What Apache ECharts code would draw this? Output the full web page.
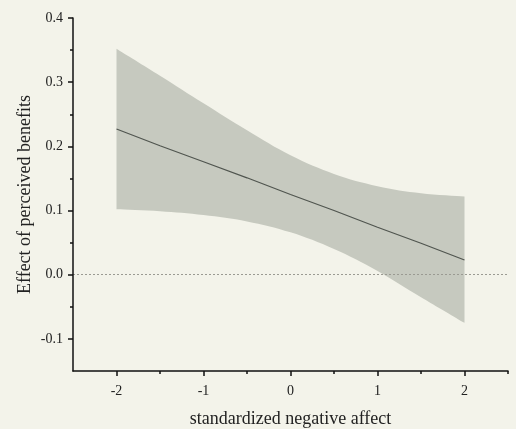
<!DOCTYPE html>
<html>
<head>
<meta charset="utf-8">
<script src="https://cdn.jsdelivr.net/npm/echarts@6/dist/echarts.min.js"></script>
<style>
html,body{margin:0;padding:0;background:#f3f3ea;}
#chart{width:516px;height:429px;}
</style>
</head>
<body>
<div id="chart"></div>
<script>
// Data
const xValues = [-2, -1.5, -1, -0.5, 0, 0.5, 1, 1.5, 2];
const effect  = [0.227, 0.201, 0.176, 0.151, 0.125, 0.100, 0.074, 0.049, 0.023];
const upper   = [0.352, 0.310, 0.267, 0.225, 0.186, 0.157, 0.138, 0.127, 0.122];
const lower   = [0.102, 0.099, 0.093, 0.083, 0.066, 0.040, 0.006, -0.035, -0.075];
const xTicks = [-2, -1, 0, 1, 2];
const xMinorTicks = [-1.5, -0.5, 0.5, 1.5, 2.5];
const yTicks = [-0.1, 0.0, 0.1, 0.2, 0.3, 0.4];
const yMinorTicks = [-0.05, 0.05, 0.15, 0.25, 0.35];

const font = 'Liberation Serif';
const bg = '#f3f3ea';
const chart = echarts.init(document.getElementById('chart'));

const bandData = xValues.map((x, i) => [x, lower[i], upper[i]]);
const lineData = xValues.map((x, i) => [x, effect[i]]);

// smooth cubic path through pixel points (Catmull-Rom style)
function smoothSegs(pts, t) {
  let d = '';
  for (let i = 0; i < pts.length - 1; i++) {
    const p0 = pts[Math.max(i - 1, 0)], p1 = pts[i], p2 = pts[i + 1], p3 = pts[Math.min(i + 2, pts.length - 1)];
    const c1 = [p1[0] + (p2[0] - p0[0]) * t, p1[1] + (p2[1] - p0[1]) * t];
    const c2 = [p2[0] - (p3[0] - p1[0]) * t, p2[1] - (p3[1] - p1[1]) * t];
    d += ` C${c1[0]},${c1[1]} ${c2[0]},${c2[1]} ${p2[0]},${p2[1]}`;
  }
  return d;
}

function renderBand(params, api) {
  if (params.dataIndex !== 0) return null;
  const up = bandData.map(d => api.coord([d[0], d[2]]));
  const lo = bandData.map(d => api.coord([d[0], d[1]])).reverse();
  let d = `M${up[0][0]},${up[0][1]}` + smoothSegs(up, 0.18);
  d += ` L${lo[0][0]},${lo[0][1]}` + smoothSegs(lo, 0.18) + ' Z';
  return {type: 'path', shape: {pathData: d}, style: {fill: '#c6c9bf', stroke: null}};
}

const tickStyle = {color: '#111', width: 1.5};

chart.setOption({
  backgroundColor: bg,
  animation: false,
  grid: {left: 73, right: 8, top: 18, bottom: 58, containLabel: false, outerBoundsMode: 'none'},
  xAxis: [{
    type: 'value', min: -2.5, max: 2.5, z: 10,
    name: 'standardized negative affect', nameLocation: 'middle', nameGap: 39,
    nameTextStyle: {fontFamily: font, fontSize: 18, color: '#222'},
    axisLine: {show: true, onZero: false, lineStyle: {color: '#111', width: 1.5}},
    axisTick: {show: true, customValues: xTicks, length: 5, lineStyle: tickStyle},
    axisLabel: {customValues: xTicks, fontFamily: font, fontSize: 14, color: '#222', margin: 13,
      formatter: v => String(v)},
    splitLine: {show: false}
  }, {
    type: 'value', min: -2.5, max: 2.5, position: 'bottom', z: 10,
    axisLine: {show: false, onZero: false},
    axisTick: {show: true, customValues: xMinorTicks, length: 3, lineStyle: tickStyle},
    axisLabel: {show: false},
    splitLine: {show: false}
  }],
  yAxis: [{
    type: 'value', min: -0.15, max: 0.4, z: 10,
    name: 'Effect of perceived benefits', nameLocation: 'middle', nameGap: 39, nameMoveOverlap: false,
    nameTextStyle: {fontFamily: font, fontSize: 18, color: '#222'},
    axisLine: {show: true, onZero: false, lineStyle: {color: '#111', width: 1.5}},
    axisTick: {show: true, customValues: yTicks, length: 5, lineStyle: tickStyle},
    axisLabel: {customValues: yTicks, fontFamily: font, fontSize: 14, color: '#222', margin: 10,
      formatter: v => v.toFixed(1)},
    splitLine: {show: false}
  }, {
    type: 'value', min: -0.15, max: 0.4, position: 'left', z: 10,
    axisLine: {show: false, onZero: false},
    axisTick: {show: true, customValues: yMinorTicks, length: 3, lineStyle: tickStyle},
    axisLabel: {show: false},
    splitLine: {show: false}
  }],
  series: [{
    type: 'custom', data: bandData, renderItem: renderBand, silent: true,
    encode: {x: 0, y: [1, 2]}, z: 1
  }, {
    type: 'line', data: lineData, symbol: 'none', silent: true,
    lineStyle: {color: '#50554f', width: 1.2}, z: 5,
    markLine: {
      silent: true, symbol: 'none', label: {show: false},
      lineStyle: {type: [2, 2], color: '#9a9a92', width: 1},
      data: [[{coord: [-2.5, 0]}, {coord: [2.5, 0]}]]
    }
  }]
});
</script>
</body>
</html>
